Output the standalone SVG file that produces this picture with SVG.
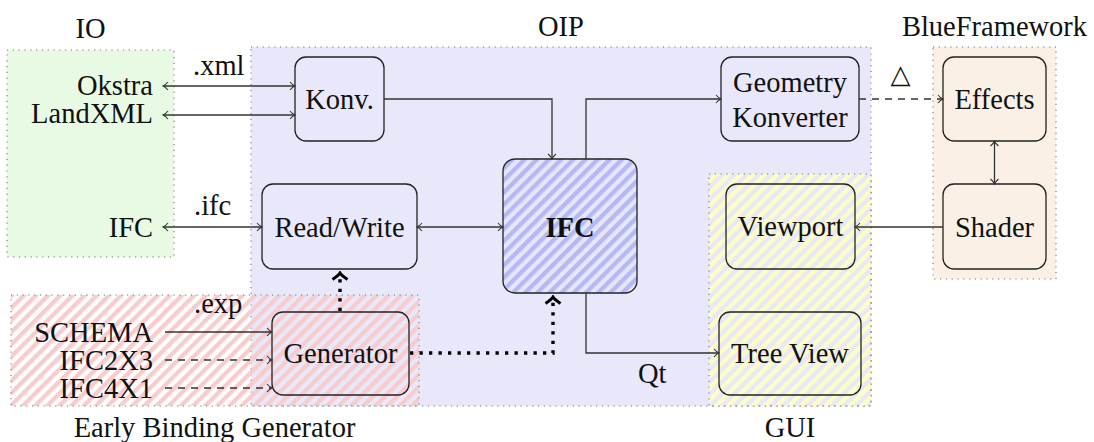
<svg xmlns="http://www.w3.org/2000/svg" width="1094" height="442" viewBox="0 0 1094 442">
<style>
text{font-family:"Liberation Serif","Times New Roman",serif;font-size:28.5px;fill:#111}
.c{text-anchor:middle}
.r{text-anchor:end}
.grp{stroke:#777;stroke-width:1.1;stroke-dasharray:1.2 4.6}
.node{stroke:#222;stroke-width:1.3}
.ln{fill:none;stroke:#333;stroke-width:1.3}
.dash{stroke-dasharray:7 6}
.dot{fill:none;stroke:#000;stroke-width:3.4;stroke-dasharray:3.3 6.2}
</style>
<defs>
<pattern id="pIFC" patternUnits="userSpaceOnUse" width="8.6" height="8.6" patternTransform="rotate(45)">
<rect width="8.6" height="8.6" fill="#e6e6fa"/>
<rect width="4.3" height="8.6" fill="#b4b8f4"/>
</pattern>
<pattern id="pEBG" patternUnits="userSpaceOnUse" width="8.6" height="8.6" patternTransform="rotate(45)">
<rect width="4.3" height="8.6" fill="#f8cccc"/>
</pattern>
<pattern id="pGUI" patternUnits="userSpaceOnUse" width="8.6" height="8.6" patternTransform="rotate(45)">
<rect width="4.3" height="8.6" fill="#fefec4"/>
</pattern>
<marker id="a" markerUnits="userSpaceOnUse" viewBox="-7 -6 8 12" refX="0" refY="0" markerWidth="8" markerHeight="12" orient="auto-start-reverse">
<path d="M-5,-4 Q-2,-0.6 0,0 Q-2,0.6 -5,4" fill="none" stroke="#333" stroke-width="1.1"/>
</marker>
<marker id="t" markerUnits="userSpaceOnUse" viewBox="-9 -9 11 18" refX="0" refY="0" markerWidth="11" markerHeight="18" orient="auto">
<path d="M-6.5,-7.5 Q-2,-1 0,0 Q-2,1 -6.5,7.5" fill="none" stroke="#000" stroke-width="2.8"/>
</marker>
</defs>
<rect width="1094" height="442" fill="#fff"/>

<g id="group-OIP">
<rect x="251" y="47" width="620" height="359" fill="#e8e8fa" class="grp"/>
<text class="c" x="561" y="36">OIP</text>
</g>
<g id="group-IO">
<rect x="7" y="50" width="167" height="207" fill="#e8fae4" class="grp"/>
<text class="c" x="90.5" y="38">IO</text>
</g>
<g id="group-BlueFramework">
<rect x="933" y="47" width="123" height="232" fill="#fbf0e6" class="grp"/>
<text class="c" x="994.5" y="36">BlueFramework</text>
</g>
<g id="group-EBG">
<rect x="11" y="295" width="408" height="111" fill="url(#pEBG)" class="grp"/>
<text class="c" x="214.5" y="437">Early Binding Generator</text>
</g>
<g id="group-GUI">
<rect x="709" y="174" width="162" height="232" fill="url(#pGUI)" class="grp"/>
<text class="c" x="790" y="437">GUI</text>
</g>

<g id="io-labels">
<text class="r" x="153" y="95">Okstra</text>
<text class="r" x="153" y="123">LandXML</text>
<text class="r" x="153" y="237">IFC</text>
<text class="r" x="153" y="342">SCHEMA</text>
<text class="r" x="153" y="370">IFC2X3</text>
<text class="r" x="153" y="398">IFC4X1</text>
</g>

<g id="node-Konv">
<rect class="node" x="295" y="57" width="89" height="84" rx="11" fill="#e8e8fa"/>
<text class="c" x="339.5" y="109">Konv.</text>
</g>
<g id="node-ReadWrite">
<rect class="node" x="262" y="184" width="155" height="85" rx="11" fill="#e8e8fa"/>
<text class="c" x="339.5" y="237">Read/Write</text>
</g>
<g id="node-IFC">
<rect class="node" x="503" y="159" width="134" height="134" rx="12" fill="url(#pIFC)"/>
<text class="c" x="570" y="237" font-weight="bold">IFC</text>
</g>
<g id="node-GeometryKonverter">
<rect class="node" x="721" y="57" width="138" height="84" rx="11" fill="#e8e8fa"/>
<text class="c" x="790" y="92">Geometry</text>
<text class="c" x="790" y="127">Konverter</text>
</g>
<g id="node-Viewport">
<rect class="node" x="726" y="184" width="129" height="85" rx="11" fill="none"/>
<text class="c" x="790.5" y="236">Viewport</text>
</g>
<g id="node-TreeView">
<rect class="node" x="719" y="312" width="142" height="83" rx="11" fill="none"/>
<text class="c" x="790" y="363">Tree View</text>
</g>
<g id="node-Effects">
<rect class="node" x="943" y="57" width="103" height="84" rx="11" fill="#fbf0e6"/>
<text class="c" x="994.5" y="109">Effects</text>
</g>
<g id="node-Shader">
<rect class="node" x="943" y="184" width="103" height="85" rx="11" fill="#fbf0e6"/>
<text class="c" x="994.5" y="237">Shader</text>
</g>
<g id="node-Generator">
<rect class="node" x="272" y="312" width="137" height="83" rx="11" fill="none"/>
<text class="c" x="340.5" y="363">Generator</text>
</g>

<g id="connectors">
<path class="ln" d="M163,86 H295" marker-start="url(#a)" marker-end="url(#a)"/>
<path class="ln" d="M163,115 H295" marker-start="url(#a)" marker-end="url(#a)"/>
<path class="ln" d="M163,227 H262" marker-start="url(#a)" marker-end="url(#a)"/>
<path class="ln" d="M417,227 H503" marker-start="url(#a)" marker-end="url(#a)"/>
<path class="ln" d="M384,99 H552 V159" marker-end="url(#a)"/>
<path class="ln" d="M586,159 V99 H721" marker-end="url(#a)"/>
<path class="ln dash" d="M859,99 H943" marker-end="url(#a)"/>
<path class="ln" d="M994.5,141 V184" marker-start="url(#a)" marker-end="url(#a)"/>
<path class="ln" d="M943,227 H855" marker-end="url(#a)"/>
<path class="ln" d="M586,293 V353 H719" marker-end="url(#a)"/>
<path class="ln" d="M165,332 H272" marker-end="url(#a)"/>
<path class="ln dash" d="M165,360 H272" marker-end="url(#a)"/>
<path class="ln dash" d="M165,388 H272" marker-end="url(#a)"/>
<path class="dot" d="M410,353 H553 V297" marker-end="url(#t)"/>
<path class="dot" d="M340,311 V273" marker-end="url(#t)"/>
<text x="193" y="75">.xml</text>
<text x="194" y="215">.ifc</text>
<text x="194" y="313">.exp</text>
<text x="638" y="383">Qt</text>
<text x="900.5" y="83" class="c" style="font-family:'DejaVu Sans',sans-serif;font-size:26px">△</text>
</g>
</svg>
